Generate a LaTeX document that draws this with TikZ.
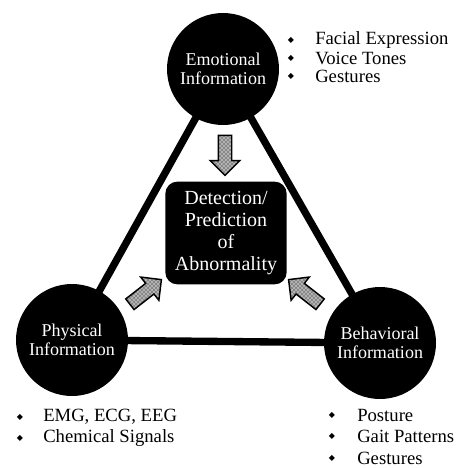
\documentclass[tikz,border=0pt]{standalone}
\usepackage{fontspec}
\setmainfont{Liberation Serif}
\newfontfamily\symfont{DejaVu Sans}
\usetikzlibrary{shapes.arrows,patterns,backgrounds}

\begin{document}
\begin{tikzpicture}[x=0.75pt,y=-0.75pt,
  info/.style={circle, fill=black, text=white, minimum size=84pt, inner sep=0pt, align=center, font=\fontsize{13.5}{14.3}\selectfont},
  goal/.style={rectangle, rounded corners=9pt, fill=black, text=white, minimum width=91pt, minimum height=77pt, inner sep=0pt, align=center, font=\fontsize{15}{16.3}\selectfont},
  link/.style={line width=5.5pt},
  flow/.style={single arrow, draw=black, line width=1.1pt, preaction={fill=gray!60}, pattern=crosshatch dots, pattern color=black, minimum height=30pt, inner xsep=0pt, inner ysep=4.5pt, single arrow head extend=6pt},
  item/.style={anchor=west, inner sep=0pt, font=\fontsize{14}{16}\selectfont},
  bul/.style={inner sep=0pt, font=\symfont\fontsize{6}{7}\selectfont}]
  \useasboundingbox (0,0) rectangle (462,468);

  % three sources and the goal
  \node[info] (emo) at (223,69) {Emotional\\Information};
  \node[info] (phy) at (72,340) {Physical\\Information};
  \node[info] (beh) at (380,343) {Behavioral\\Information};
  \node[goal] (det) at (226,233) {Detection/\\Prediction\\of\\Abnormality};

  \begin{scope}[on background layer]
    \draw[link] (emo.center) -- (phy.center) -- (beh.center) -- (emo.center);
  \end{scope}

  % arrows into the goal
  \node[flow, rotate=-90] (emoin) at (225,152) {};
  \node[flow, rotate=38] (phyin) at (143,294) {};
  \node[flow, rotate=142] (behin) at (307,294) {};

  % cue lists
  \foreach \txt [count=\i] in {Facial Expression, Voice Tones, Gestures}{
    \node[bul] (emob\i) at (291,22+18*\i) {◆};
    \node[item] (emot\i) at (315,22+18*\i) {\txt};
  }
  \foreach \txt [count=\i] in {{EMG, ECG, EEG}, Chemical Signals}{
    \node[bul] (phyb\i) at (20,396+21*\i) {◆};
    \node[item] (phyt\i) at (43,396+21*\i) {\txt};
  }
  \foreach \txt [count=\i] in {Posture, Gait Patterns, Gestures}{
    \node[bul] (behb\i) at (332,393.5+21.5*\i) {◆};
    \node[item] (beht\i) at (357,393.5+21.5*\i) {\txt};
  }
\end{tikzpicture}
\end{document}
